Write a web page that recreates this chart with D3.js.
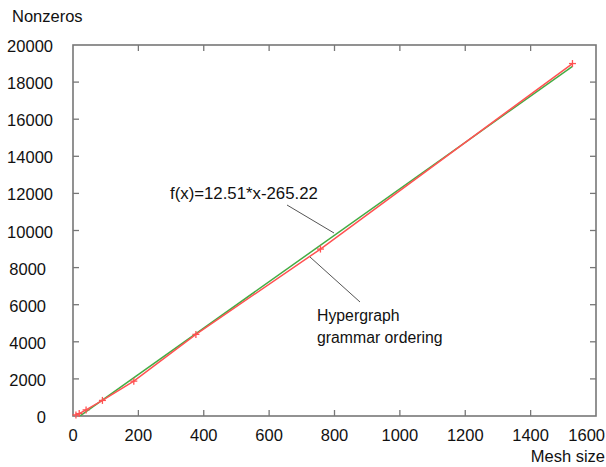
<!DOCTYPE html>
<html>
<head>
<meta charset="utf-8">
<script src="https://cdn.jsdelivr.net/npm/d3@7"></script>
<style>
  body { margin: 0; background: #fff; }
  svg { display: block; font-family: "Liberation Sans", Arial, sans-serif; }
</style>
</head>
<body>
<svg id="chart" width="606" height="467"></svg>
<script>
// measured points (red, linespoints)
const meshSize = [9, 19, 40, 90, 186, 376, 757, 1528];
const nonzeros = [60, 130, 330, 840, 1880, 4400, 9000, 19000];
// linear fit, as printed on the chart
const fitSlope = 12.51;
const fitIntercept = -265.22;
const xTicks = [0, 200, 400, 600, 800, 1000, 1200, 1400, 1600];
const yTicks = [0, 2000, 4000, 6000, 8000, 10000, 12000, 14000, 16000, 18000, 20000];

const svg = d3.select('#chart');
const padL = 73, padR = 596, padT = 45, padB = 416;
const W = 606;

const x = d3.scaleLinear().domain([0, 1600]).range([padL, padR]);
const y = d3.scaleLinear().domain([0, 20000]).range([padB, padT]);

svg.append('clipPath').attr('id', 'plot')
  .append('rect').attr('x', padL).attr('y', padT)
  .attr('width', padR - padL).attr('height', padB - padT);

// inward ticks on all four sides
const tick = 6;
const axisCol = '#777';
const g = svg.append('g').attr('stroke', axisCol).attr('stroke-width', 1.3);
xTicks.slice(1, -1).forEach(t => {
  g.append('line').attr('x1', x(t)).attr('x2', x(t)).attr('y1', padB).attr('y2', padB - tick);
  g.append('line').attr('x1', x(t)).attr('x2', x(t)).attr('y1', padT).attr('y2', padT + tick);
});
yTicks.slice(1, -1).forEach(t => {
  g.append('line').attr('x1', padL).attr('x2', padL + tick).attr('y1', y(t)).attr('y2', y(t));
  g.append('line').attr('x1', padR).attr('x2', padR - tick).attr('y1', y(t)).attr('y2', y(t));
});
svg.append('rect').attr('x', padL).attr('y', padT)
  .attr('width', padR - padL).attr('height', padB - padT)
  .attr('fill', 'none').attr('stroke', axisCol).attr('stroke-width', 1.6);

// tick labels (last one pushed inside the page edge)
const lastX = xTicks[xTicks.length - 1];
svg.selectAll('.xl').data(xTicks).enter().append('text')
  .attr('x', d => d === lastX ? W - 1 : x(d)).attr('y', 441)
  .attr('text-anchor', d => d === lastX ? 'end' : 'middle')
  .attr('font-size', 16.5).attr('fill', '#111')
  .text(d => d);
svg.selectAll('.yl').data(yTicks).enter().append('text')
  .attr('x', d => d >= 10000 ? 53 : 46).attr('y', d => y(d) + 7)
  .attr('text-anchor', 'end').attr('font-size', 16.5).attr('fill', '#111')
  .text(d => d);

svg.append('text').attr('x', 12).attr('y', 22).attr('font-size', 16.5).attr('fill', '#111').text('Nonzeros');
svg.append('text').attr('x', W - 1).attr('y', 462).attr('text-anchor', 'end')
  .attr('font-size', 16.5).attr('fill', '#111').text('Mesh size');

// fit line (green)
const plot = svg.append('g').attr('clip-path', 'url(#plot)');
const xr = d3.extent(meshSize);
plot.append('path')
  .datum(xr)
  .attr('d', d3.line().x(d => x(d)).y(d => y(fitSlope * d + fitIntercept)))
  .attr('fill', 'none').attr('stroke', '#44ac44').attr('stroke-width', 1.5);

// data line (red)
const red = '#ff5252';
const pts = meshSize.map((m, i) => [m, nonzeros[i]]);
plot.append('path')
  .datum(pts)
  .attr('d', d3.line().x(d => x(d[0])).y(d => y(d[1])))
  .attr('fill', 'none').attr('stroke', red).attr('stroke-width', 1.5);
const m = 3.5;
pts.forEach(p => {
  const px = x(p[0]), py = y(p[1]);
  svg.append('line').attr('x1', px - m).attr('x2', px + m).attr('y1', py).attr('y2', py)
    .attr('stroke', red).attr('stroke-width', 1.3);
  svg.append('line').attr('x1', px).attr('x2', px).attr('y1', py - m).attr('y2', py + m)
    .attr('stroke', red).attr('stroke-width', 1.3);
});

// annotations
svg.append('text').attr('x', 170).attr('y', 199).attr('font-size', 16.8).attr('fill', '#111')
  .text('f(x)=12.51*x-265.22');
svg.append('line').attr('x1', 287).attr('y1', 205).attr('x2', 334).attr('y2', 233)
  .attr('stroke', '#555').attr('stroke-width', 1);
svg.append('line').attr('x1', 310).attr('y1', 257).attr('x2', 360).attr('y2', 302)
  .attr('stroke', '#555').attr('stroke-width', 1);
svg.append('text').attr('x', 317).attr('y', 321).attr('font-size', 15.8).attr('fill', '#111')
  .text('Hypergraph');
svg.append('text').attr('x', 317).attr('y', 343).attr('font-size', 15.8).attr('fill', '#111')
  .text('grammar ordering');
</script>
</body>
</html>
